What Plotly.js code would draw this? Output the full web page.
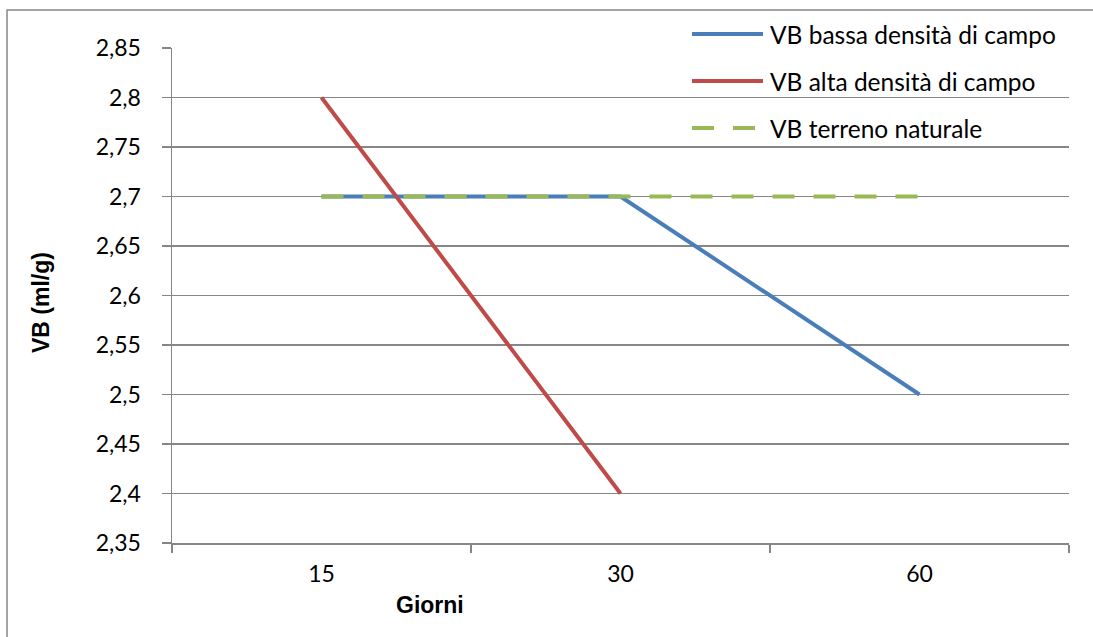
<!DOCTYPE html>
<html>
<head>
<meta charset="utf-8">
<script src="https://cdn.plot.ly/plotly-3.0.1.min.js"></script>
<style>
  html, body { margin: 0; padding: 0; background: #fff; }
  #chart { width: 1093px; height: 637px; }
</style>
</head>
<body>
<div id="chart"></div>
<script>
// Giorni (categorie) e valori VB (ml/g) per ciascuna serie
const giorni = ['15', '30', '60'];
const vbBassaDensita = [2.7, 2.7, 2.5];
const vbAltaDensita = [2.8, 2.4, null];
const vbTerrenoNaturale = [2.7, 2.7, 2.7];
const nomiSerie = ['VB bassa densità di campo', 'VB alta densità di campo', 'VB terreno naturale'];
const yTickValues = [2.35, 2.4, 2.45, 2.5, 2.55, 2.6, 2.65, 2.7, 2.75, 2.8, 2.85];
const yTickLabels = ['2,35', '2,4', '2,45', '2,5', '2,55', '2,6', '2,65', '2,7', '2,75', '2,8', '2,85'];

const colori = ['#4A7EBB', '#BE4B48', '#98B954'];
const stili = ['solid', 'solid', '22px,19px'];
const valori = [vbBassaDensita, vbAltaDensita, vbTerrenoNaturale];

const W = 1093, H = 637;
const M = { l: 172, r: 24, t: 48, b: 94 };
const PW = W - M.l - M.r, PH = H - M.t - M.b;
const px = x => (x - M.l) / PW;
const py = y => (H - M.b - y) / PH;

const traces = valori.map((v, i) => ({
  type: 'scatter', mode: 'lines', x: giorni, y: v, name: nomiSerie[i],
  line: { color: colori[i], width: 4, dash: stili[i] },
  connectgaps: false, showlegend: false, hoverinfo: 'skip'
}));

// Legenda disegnata a mano: campione di linea + etichetta
const shapes = [];
const annotations = [];
const legendY = [34, 81, 128];
nomiSerie.forEach((n, i) => {
  shapes.push({
    type: 'line', xref: 'paper', yref: 'paper',
    x0: px(692), x1: px(763), y0: py(legendY[i]), y1: py(legendY[i]),
    line: { color: colori[i], width: 4, dash: stili[i] }
  });
  annotations.push({
    xref: 'paper', yref: 'paper', x: px(768), y: py(legendY[i]),
    xanchor: 'left', yanchor: 'middle', showarrow: false, text: n,
    font: { family: 'Lato, sans-serif', size: 24.5, color: '#000' }
  });
});

// Cornice esterna del grafico
shapes.push({
  type: 'rect', xref: 'paper', yref: 'paper', layer: 'below',
  x0: px(7), x1: px(1110), y0: py(10), y1: py(660),
  line: { color: '#868686', width: 1.5 }
});

// Titoli degli assi
annotations.push({
  xref: 'paper', yref: 'paper', x: px(41), y: py(303), textangle: -90,
  xanchor: 'center', yanchor: 'middle', showarrow: false, text: '<b>VB (ml/g)</b>',
  font: { family: 'Liberation Sans, Arial, sans-serif', size: 23, color: '#000' }
});
annotations.push({
  xref: 'paper', yref: 'paper', x: px(430), y: py(605),
  xanchor: 'center', yanchor: 'middle', showarrow: false, text: '<b>Giorni</b>',
  font: { family: 'Liberation Sans, Arial, sans-serif', size: 23, color: '#000' }
});

const layout = {
  width: W, height: H,
  margin: M,
  paper_bgcolor: '#fff', plot_bgcolor: '#fff',
  showlegend: false,
  font: { family: 'Lato, sans-serif', size: 22, color: '#000' },
  xaxis: {
    type: 'category', range: [-0.5, 2.5],
    showgrid: false, zeroline: false,
    showline: true, linecolor: '#868686', linewidth: 1.5,
    ticks: 'outside', tickson: 'boundaries', ticklen: 8, tickcolor: '#868686', tickwidth: 1.5,
    ticklabelstandoff: 10,
    tickfont: { family: 'Lato, sans-serif', size: 23, color: '#000' }
  },
  yaxis: {
    range: [2.35, 2.85], tickmode: 'array', tickvals: yTickValues, ticktext: yTickLabels,
    showgrid: true, gridcolor: '#868686', gridwidth: 1.2, zeroline: false,
    showline: true, linecolor: '#868686', linewidth: 1.5,
    ticks: 'outside', ticklen: 9, tickcolor: '#868686', tickwidth: 1.5,
    ticklabelstandoff: 16,
    tickfont: { family: 'Lato, sans-serif', size: 23, color: '#000' }
  },
  shapes: shapes,
  annotations: annotations
};

Plotly.newPlot('chart', traces, layout, { displayModeBar: false, staticPlot: true });
</script>
</body>
</html>
